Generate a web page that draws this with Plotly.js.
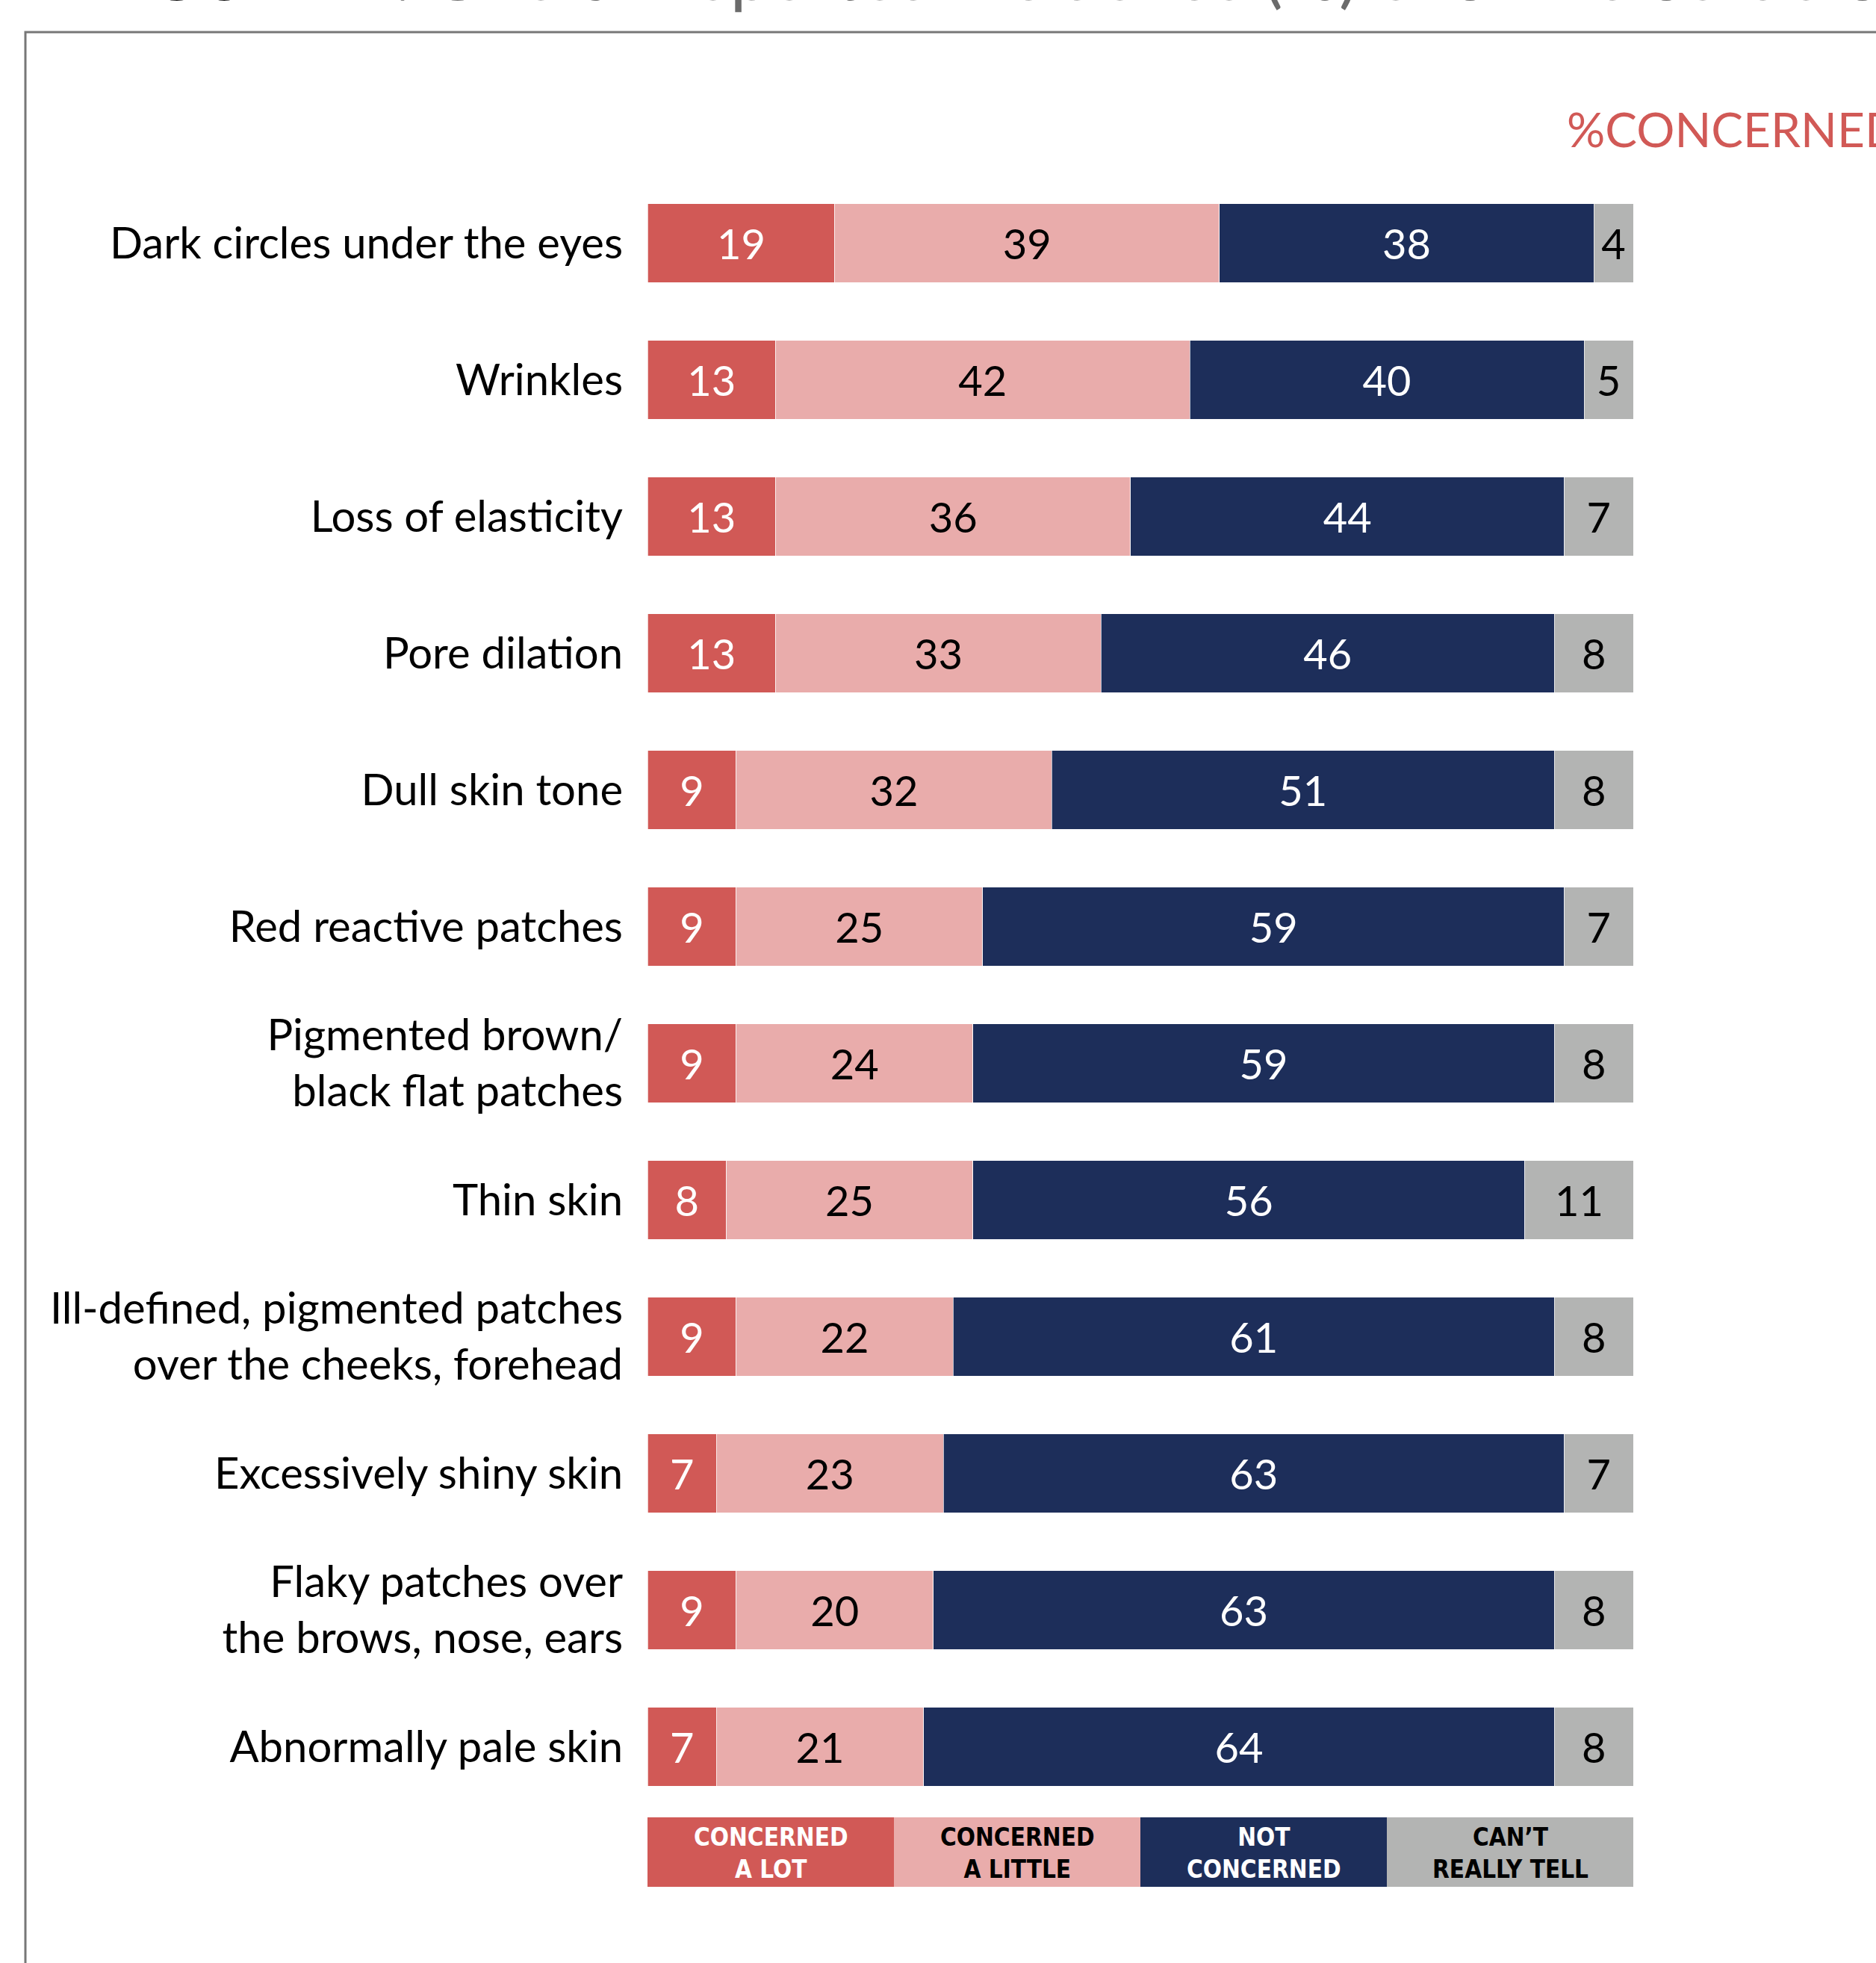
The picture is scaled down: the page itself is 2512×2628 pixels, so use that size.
<!DOCTYPE html>
<html>
<head>
<meta charset="utf-8">
<script src="https://cdn.plot.ly/plotly-3.0.1.min.js"></script>
<style>
html,body{margin:0;padding:0;background:#fff;}
#chart{width:2512px;height:2628px;}
</style>
</head>
<body>
<div id="chart"></div>
<script>
// ---- data ----
const categories = ["Dark circles under the eyes", "Wrinkles", "Loss of elasticity", "Pore dilation",
  "Dull skin tone", "Red reactive patches", "Pigmented brown/ black flat patches", "Thin skin",
  "Ill-defined, pigmented patches over the cheeks, forehead", "Excessively shiny skin",
  "Flaky patches over the brows, nose, ears", "Abnormally pale skin"];
const tickLabels = ["Dark circles under the eyes", "Wrinkles", "Loss of elasticity", "Pore dilation",
  "Dull skin tone", "Red reactive patches", "Pigmented brown/<br>black flat patches", "Thin skin",
  "Ill-defined, pigmented patches<br>over the cheeks, forehead", "Excessively shiny skin",
  "Flaky patches over<br>the brows, nose, ears", "Abnormally pale skin"];
const concernedALot    = [19, 13, 13, 13, 9, 9, 9, 8, 9, 7, 9, 7];
const concernedALittle = [39, 42, 36, 33, 32, 25, 24, 25, 22, 23, 20, 21];
const notConcerned     = [38, 40, 44, 46, 51, 59, 59, 56, 61, 63, 63, 64];
const cantReallyTell   = [4, 5, 7, 8, 8, 7, 8, 11, 8, 7, 8, 8];
const pctConcerned     = [58, 55, 49, 46, 41, 34, 33, 33, 31, 30, 29, 28];
const seriesNames = ["CONCERNED<br>A LOT", "CONCERNED<br>A LITTLE", "NOT<br>CONCERNED", "CAN’T<br>REALLY TELL"];
const titleBold = "FIGURE 2:";
const titleRest = "Overall reported incidence (%) of skin disorders";
const pctHeader = "%CONCERNED";

// ---- styles ----
const colors = ["#D15956", "#E9ACAB", "#1D2E5A", "#B3B4B3"];
const textColors = ["#ffffff", "#000000", "#ffffff", "#000000"];
const FONT = "Lato, 'Open Sans', sans-serif";
const LEGEND_FONT = "'DejaVu Sans Condensed', 'Liberation Sans', sans-serif";
const seriesValues = [concernedALot, concernedALittle, notConcerned, cantReallyTell];

const traces = seriesValues.map((vals, i) => ({
  type: "bar",
  orientation: "h",
  name: seriesNames[i],
  x: vals,
  y: categories,
  marker: {color: colors[i], line: {color: "rgba(255,255,255,0.7)", width: 1}},
  text: vals.map(String),
  texttemplate: "%{text}",
  textposition: "inside",
  insidetextanchor: "middle",
  constraintext: "none",
  textfont: {family: FONT, size: 56, color: textColors[i]},
  hoverinfo: "skip",
  showlegend: false
}));

traces.push({
  type: "scatter",
  mode: "text",
  x: categories.map(() => 109.4),
  y: categories,
  text: pctConcerned.map(String),
  textposition: "middle center",
  textfont: {family: FONT, size: 64, color: "#D15956"},
  cliponaxis: false,
  hoverinfo: "skip",
  showlegend: false
});

// plot area pixels: left 867, right 2187, top 234, bottom 2430
const PT = 234, PB = 2430, PH = PB - PT, PL = 867, PW = 1320;
const py = (pix) => (PB - pix) / PH;
const px = (pix) => (pix - PL) / PW;

const shapes = [];
const annotations = [];
// legend boxes (series key)
seriesNames.forEach((name, i) => {
  shapes.push({type: "rect", xref: "x", yref: "paper", x0: i * 25, x1: (i + 1) * 25,
    y0: py(2526), y1: py(2433), fillcolor: colors[i], line: {width: 0}, layer: "above"});
  annotations.push({xref: "x", yref: "paper", x: i * 25 + 12.5, y: py(2481),
    xanchor: "center", yanchor: "middle",
    text: "<b>" + name + "</b>", showarrow: false, align: "center",
    font: {family: LEGEND_FONT, size: 33, color: textColors[i]}});
});
// frame
shapes.push({type: "rect", xref: "paper", yref: "paper", x0: px(34), x1: px(2700),
  y0: py(2800), y1: py(43), line: {color: "#777777", width: 3}, fillcolor: "rgba(0,0,0,0)", layer: "below"});
// header for %concerned
annotations.push({xref: "paper", yref: "paper", x: px(2096), y: py(172), xanchor: "left", yanchor: "middle",
  text: pctHeader, showarrow: false, font: {family: FONT, size: 64, color: "#D15956"}});
// cut-off title
annotations.push({xref: "paper", yref: "paper", x: px(114), y: py(-37), xanchor: "left", yanchor: "middle",
  text: "<b>" + titleBold + "</b> <span style='color:#6b6b6b'>" + titleRest + "</span>",
  showarrow: false, font: {family: FONT, size: 94, color: "#000000"}});

const layout = {
  width: 2512, height: 2628,
  margin: {l: PL, r: 2512 - PL - PW, t: PT, b: 2628 - PB, pad: 0},
  paper_bgcolor: "#ffffff", plot_bgcolor: "#ffffff",
  barmode: "stack",
  bargap: 0.426,
  showlegend: false,
  xaxis: {range: [0, 100], visible: false, fixedrange: true},
  yaxis: {type: "category", range: [11.5, -0.5], tickmode: "array", tickvals: categories,
    ticktext: tickLabels, ticks: "", showline: false, showgrid: false, zeroline: false,
    ticklabelstandoff: 32,
    tickfont: {family: FONT, size: 58, color: "#000000"}},
  shapes: shapes,
  annotations: annotations
};

Plotly.newPlot("chart", traces, layout, {staticPlot: true});
</script>
</body>
</html>
